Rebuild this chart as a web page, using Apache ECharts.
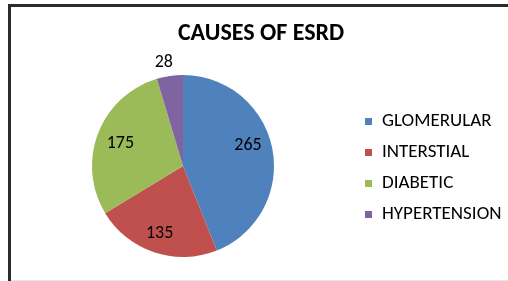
<!DOCTYPE html>
<html>
<head>
<meta charset="utf-8">
<script src="https://cdn.jsdelivr.net/npm/echarts@6/dist/echarts.min.js"></script>
<style>
  html, body { margin: 0; padding: 0; background: #fff; }
  #chart { width: 508px; height: 281px; }
</style>
</head>
<body>
<div id="chart"></div>
<script>
// 数据
var causes = ['GLOMERULAR', 'INTERSTIAL', 'DIABETIC', 'HYPERTENSION'];
var counts = [265, 135, 175, 28];
var colors = ['#4F81BD', '#C0504D', '#9BBB59', '#8064A2'];

var font = 'Carlito, "Open Sans", sans-serif';
var cx = 183, cy = 166, r = 91;

var datas = [];
for (var i = 0; i < causes.length; i++) {
    var item = { name: causes[i], value: counts[i], itemStyle: { color: colors[i] } };
    if (i === 3) {
        // 小块放在外面
        item.label = { position: 'outside' };
        item.labelLine = { show: false, length: 6, length2: 0 };
    }
    datas.push(item);
}

// 标签微调（仿 Excel 的最佳位置）
var labelNudge = [[-4, -7], [-1, 1], [3, 3], [9, -8]];

var myChart = echarts.init(document.getElementById('chart'));
var option = {
    backgroundColor: '#fff',
    animation: false,
    title: {
        text: 'CAUSES OF ESRD',
        left: 256,
        top: 17,
        textAlign: 'center',
        textStyle: { fontFamily: font, fontSize: 24, fontWeight: 'bold', color: '#000' }
    },
    legend: {
        orient: 'vertical',
        left: 360,
        top: 107,
        itemWidth: 7,
        itemHeight: 7,
        itemGap: 12,
        icon: 'rect',
        textStyle: { fontFamily: font, fontSize: 19, lineHeight: 19, color: '#000', padding: [0, 0, 0, 5] },
        data: causes
    },
    graphic: [{
        type: 'polyline',
        shape: { points: [[9.5, 281], [9.5, 5.5], [508, 5.5]] },
        style: { stroke: '#2b2b2b', lineWidth: 3, fill: null }
    }, {
        type: 'line',
        shape: { x1: 11, y1: 280.5, x2: 508, y2: 280.5 },
        style: { stroke: '#e6e6e6', lineWidth: 1 }
    }],
    series: [{
        type: 'pie',
        center: [cx, cy],
        radius: r,
        startAngle: 90,
        clockwise: true,
        label: {
            show: true,
            position: 'inside',
            formatter: '{c}',
            fontFamily: font,
            fontSize: 18,
            color: '#000'
        },
        labelLayout: function (p) {
            var n = labelNudge[p.dataIndex];
            if (p.dataIndex === 3) return { dx: n[0], dy: n[1] };
            var lr = p.labelRect;
            var vx = lr.x + lr.width / 2 - cx;
            var vy = lr.y + lr.height / 2 - cy;
            return { dx: vx * 0.45 + n[0], dy: vy * 0.45 + n[1] };
        },
        emphasis: { disabled: true },
        itemStyle: { borderWidth: 0 },
        data: datas
    }]
};
myChart.setOption(option);
</script>
</body>
</html>
